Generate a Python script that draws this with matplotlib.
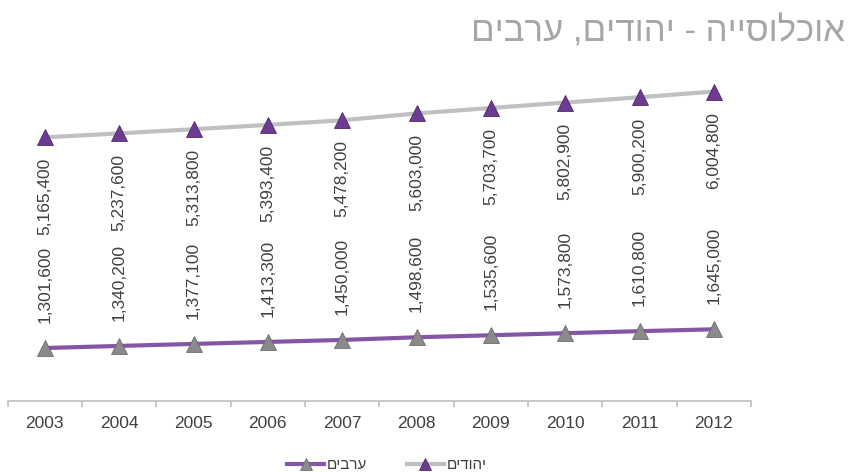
import matplotlib
matplotlib.use("Agg")
import matplotlib.pyplot as plt
from matplotlib.ticker import FixedLocator

plt.rcParams['font.family'] = ['Liberation Sans', 'DejaVu Sans']

# data
years = ["2003", "2004", "2005", "2006", "2007", "2008", "2009", "2010", "2011", "2012"]
jews = [5165400, 5237600, 5313800, 5393400, 5478200, 5603000, 5703700, 5802900, 5900200, 6004800]
arabs = [1301600, 1340200, 1377100, 1413300, 1450000, 1498600, 1535600, 1573800, 1610800, 1645000]
title = "אוכלוסייה - יהודים, ערבים"
label_jews = "יהודים"
label_arabs = "ערבים"

# the source shows the hebrew letters left-to-right, the renderer here
# flips rtl runs, so hand it the reversed strings
def as_shown(s):
    return s[::-1]

purple = "#6e3b92"
purple_line = "#8656a6"
grey_line = "#c0c0c0"
grey_marker = "#8a8a8a"
text_col = "#404040"

fig = plt.figure(figsize=(8.55, 4.72), dpi=100)
ax = fig.add_axes([0.009, 0.1504, 0.8694, 0.7013])

x = list(range(len(years)))

l_arabs, = ax.plot(x, arabs, color=purple_line, lw=3, marker="^", ms=11,
                   mfc=grey_marker, mec="#6d6d6d", mew=0.6, label=as_shown(label_arabs))
l_jews, = ax.plot(x, jews, color=grey_line, lw=3, marker="^", ms=11,
                  mfc=purple, mec="#4f2a6a", mew=0.6, label=as_shown(label_jews))

for xi, v in zip(x, jews):
    ax.annotate(f"{v:,}", (xi, v), xytext=(0, -14.5), textcoords="offset points",
                rotation=90, ha="center", va="top", fontsize=12.5, color=text_col)
for xi, v in zip(x, arabs):
    ax.annotate(f"{v:,}", (xi, v), xytext=(0, 18), textcoords="offset points",
                rotation=90, ha="center", va="bottom", fontsize=12.5, color=text_col)

ax.set_xlim(-0.5, len(years) - 0.5)
ax.set_ylim(330000, 6400000)

for s in ["top", "right", "left"]:
    ax.spines[s].set_visible(False)
ax.spines["bottom"].set_color("#bfbfbf")
ax.spines["bottom"].set_linewidth(1.2)

ax.set_yticks([])
ax.set_xticks(x)
ax.set_xticklabels(years, fontsize=12.5, color=text_col)
ax.tick_params(axis="x", which="major", length=0, pad=11)
ax.xaxis.set_minor_locator(FixedLocator([i - 0.5 for i in range(len(years) + 1)]))
ax.tick_params(axis="x", which="minor", length=4, color="#bfbfbf", width=1.2)

fig.text(845 / 855, 1 - 41 / 472, as_shown(title), ha="right", va="baseline",
         fontsize=25, color="#a6a6a6")

fig.legend(handles=[l_arabs, l_jews], loc="lower center",
           bbox_to_anchor=(387 / 855, -0.03), ncol=2, frameon=False,
           fontsize=11, handlelength=2.4, handletextpad=0.2, columnspacing=2.6,
           markerscale=0.75, labelcolor=text_col)

fig.savefig("out.png", dpi=100)
